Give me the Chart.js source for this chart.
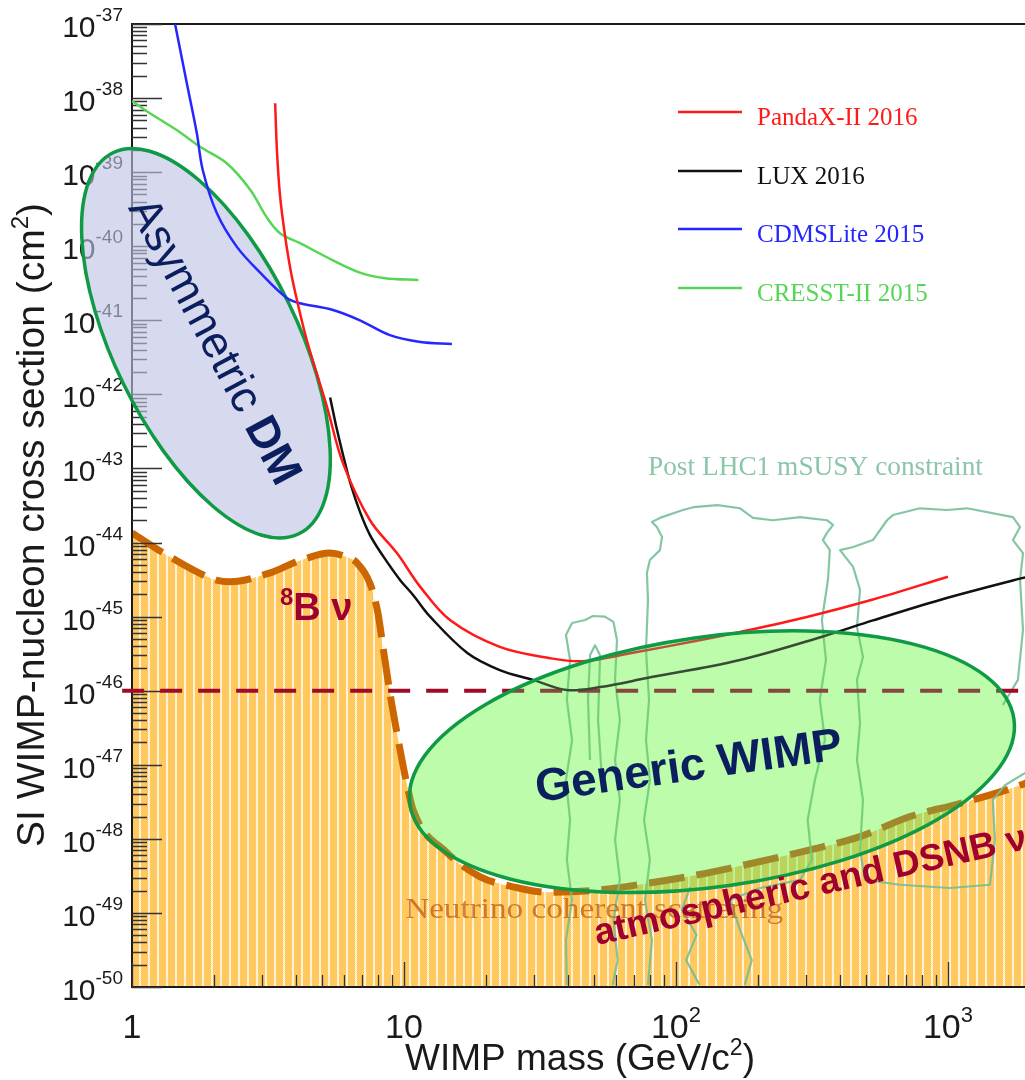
<!DOCTYPE html>
<html>
<head>
<meta charset="utf-8">
<script src="https://cdn.jsdelivr.net/npm/chart.js@4.4.1/dist/chart.umd.min.js"></script>
<style>
  html, body { margin: 0; padding: 0; background: #fff; }
  #wrap { width: 1025px; height: 1080px; position: relative; }
</style>
</head>
<body>
<div id="wrap"><canvas id="limits"></canvas></div>
<script>
// ---- data (WIMP mass in GeV/c^2, cross section in cm^2) ----
const yExps = [-37, -38, -39, -40, -41, -42, -43, -44, -45, -46, -47, -48, -49, -50];
const xTickValues = [1, 10, 100, 1000];
const xTickBases = ['1', '10', '10', '10'];
const xTickExps = ['', '', '2', '3'];

const pandaxMass  = [3.36, 3.41, 3.5, 3.65, 3.84, 4.08, 4.36, 4.71, 5.21, 5.97, 7.5, 9.42, 11.5, 14.8, 22.5, 34.4, 45.5, 69.5, 122, 172, 303, 530, 1000];
const pandaxSigma = [8.5e-39, 2.0e-39, 4.9e-40, 1.42e-40, 4.5e-41, 1.61e-41, 5.96e-42, 2.27e-42, 6.8e-43, 1.17e-43, 2.0e-44, 7.2e-45, 2.5e-45, 8.9e-46, 3.9e-46, 2.75e-46, 2.5e-46, 3.25e-46, 4.8e-46, 6.2e-46, 9.9e-46, 1.7e-45, 3.45e-45];

const luxMass  = [5.35, 5.62, 5.97, 6.38, 6.89, 7.5, 8.37, 9.67, 10.8, 12.5, 17.1, 22.5, 29.8, 39.7, 52.6, 78.2, 172, 347, 530, 935, 1888, 2000];
const luxSigma = [9.1e-43, 3.86e-43, 1.52e-43, 5.98e-44, 2.59e-44, 1.26e-44, 6.6e-45, 3.13e-45, 1.96e-45, 9.9e-46, 3.23e-46, 1.9e-46, 1.4e-46, 1.02e-46, 1.12e-46, 1.48e-46, 2.6e-46, 5.4e-46, 8.9e-46, 1.68e-45, 3.33e-45, 3.45e-45];

const cdmsMass  = [1.44, 1.59, 1.73, 1.82, 2.05, 2.43, 2.96, 3.71, 4.15, 5.48, 6.89, 8.88, 11.5, 15.0];
const cdmsSigma = [1e-37, 1.6e-38, 3.4e-39, 1.07e-39, 2.8e-40, 9.8e-41, 4.4e-41, 2.0e-41, 1.7e-41, 1.38e-41, 1.0e-41, 6.3e-42, 5.1e-42, 4.8e-42];

const cresstMass  = [1.0, 1.16, 1.46, 1.78, 2.23, 2.72, 3.13, 3.5, 4.15, 5.21, 6.89, 8.51, 11.3];
const cresstSigma = [9.1e-39, 6.3e-39, 3.7e-39, 2.2e-39, 1.32e-39, 5.8e-40, 2.45e-40, 1.5e-40, 1.1e-40, 7.1e-41, 4.4e-41, 3.7e-41, 3.5e-41];

// neutrino floor
const floorMass  = [1, 1.38, 2.05, 2.29, 3.22, 4.04, 5.35, 6.0, 6.72, 7.5, 8.02, 8.37, 8.88, 9.42, 10.3, 10.8, 14.4, 19.0, 25.2, 33.6, 52.6, 78, 119, 182, 311, 475, 725, 1107, 1919, 2000];
const floorSigma = [1.35e-44, 6.4e-45, 3.1e-45, 2.95e-45, 3.9e-45, 5.5e-45, 7.2e-45, 6.6e-45, 5.3e-45, 2.8e-45, 1.12e-45, 3.9e-46, 9.3e-47, 2.7e-47, 5.0e-48, 2.45e-48, 6.5e-49, 3.1e-49, 2.25e-49, 1.9e-49, 2.05e-49, 2.5e-49, 3.25e-49, 4.5e-49, 7.1e-49, 1.07e-48, 2.0e-48, 3.0e-48, 5.6e-48, 6.0e-48];

// 1e-46 reference line
const refMass = [0.92, 2000];
const refSigma = [1e-46, 1e-46];

// post LHC1 mSUSY contours [mass, sigma]
const susyA = [[39.7,1.07e-50],[39.4,4.3e-50],[41.5,1.5e-49],[39.7,5.2e-49],[40.8,1.8e-48],[39.4,6.2e-48],[41.5,2.16e-47],[39.7,7.5e-47],[40.8,2.6e-46],[39.4,5.65e-46],[41.5,8.2e-46],[46.3,9.0e-46],[49.5,1.02e-45],[54.8,1.0e-45],[58.9,8.5e-46],[60.7,4.8e-46],[59.7,1.4e-46],[62.2,4.0e-47],[59.7,1.16e-47],[62.2,3.35e-48],[59.7,9.7e-49],[62.2,2.8e-49],[58.9,8.0e-50],[61.0,2.3e-50],[58.6,1.07e-50]];
const susyAInner = [[48.3,1.16e-47],[47.5,7.5e-47],[48.3,3.0e-46],[50.4,4.1e-46],[52.6,3.0e-46],[51.7,4.0e-47],[53.5,6.2e-48]];
const susyB = [[78.9,1.07e-50],[81.6,4.3e-50],[76.9,1.5e-49],[80.2,5.2e-49],[76.3,1.8e-48],[80.2,6.2e-48],[77.6,2.16e-47],[79.6,7.5e-47],[77.6,3.55e-46],[78.9,1.68e-45],[78.2,3.9e-45],[80.2,5.8e-45],[87.3,7.9e-45],[88.9,1.19e-44],[85.1,1.62e-44],[81.6,1.9e-44],[87.3,2.15e-44],[106,2.75e-44],[116,3.0e-44],[142,3.2e-44],[172,2.9e-44],[192,2.15e-44],[227,2.0e-44],[286,2.2e-44],[359,2.0e-44],[378,1.73e-44],[359,1.35e-44],[347,1.08e-44],[368,7.9e-45],[362,3.1e-45],[344,9.0e-46],[356,2.6e-46],[338,7.5e-47],[353,2.16e-47],[324,6.2e-48],[305,1.8e-48],[316,5.2e-49],[286,2.8e-49],[204,2.17e-49],[158,1.5e-49],[172,5.9e-50],[190,2.3e-50],[179,1.07e-50]];
const susyC = [[2000,8.5e-48],[1620,5.3e-48],[1462,3.35e-48],[1489,9.7e-49],[1427,2.4e-49],[1017,2.17e-49],[666,2.4e-49],[495,2.8e-49],[475,7.1e-49],[487,3.35e-48],[463,1.16e-47],[475,3.66e-47],[463,1.4e-46],[487,2.85e-46],[463,7.2e-46],[475,2.3e-45],[448,4.7e-45],[401,7.9e-45],[448,8.7e-45],[530,1.08e-44],[597,2.0e-44],[628,2.35e-44],[789,2.9e-44],[991,2.75e-44],[1175,2.9e-44],[1734,2.2e-44],[1841,1.62e-44],[1734,1.08e-44],[1888,7.2e-45],[1841,3.1e-45],[1888,6.6e-46],[1808,1.4e-46],[1592,6.4e-47]];
const susyD = [[113,2.24e-49],[105,1.1e-49],[119,5.05e-50],[109,2.3e-50],[122,1.07e-50]];

const SANS = '"Liberation Sans", Arial, sans-serif';
const SERIF = '"Liberation Serif", "Times New Roman", serif';

function toXY(mass, sigma) {
  return mass.map((m, i) => ({ x: m, y: sigma[i] }));
}
function pairsXY(pairs) {
  return pairs.map(p => ({ x: p[0], y: p[1] }));
}

// orange fill with thin white wavy stripes
function stripePattern() {
  const p = document.createElement('canvas');
  p.width = 9; p.height = 4;
  const g = p.getContext('2d');
  g.fillStyle = '#FFC95F';
  g.fillRect(0, 0, 9, 4);
  for (let r = 0; r < 4; r++) {
    g.fillStyle = '#FFFFFF';
    g.fillRect(r % 2 ? 5 : 4, r, 1, 1);
    g.fillStyle = 'rgba(255,255,255,0.5)';
    g.fillRect(r % 2 ? 4 : 5, r, 1, 1);
  }
  return g.createPattern(p, 'repeat');
}

// text made of pieces (for superscripts)
function drawParts(ctx, parts, x, y, align, baseline) {
  ctx.textAlign = 'left';
  ctx.textBaseline = baseline || 'alphabetic';
  let w = 0;
  parts.forEach(p => { ctx.font = p.font; p.w = ctx.measureText(p.t).width; w += p.w; });
  let cx = align === 'right' ? x - w : align === 'center' ? x - w / 2 : x;
  parts.forEach(p => {
    ctx.font = p.font;
    ctx.fillText(p.t, cx, y + (p.dy || 0));
    cx += p.w;
  });
}

function drawFitted(ctx, text, x, y, width, font) {
  ctx.font = font;
  ctx.textAlign = 'left';
  ctx.textBaseline = 'alphabetic';
  const w = ctx.measureText(text).width;
  ctx.save();
  ctx.translate(x, y);
  ctx.scale(width / w, 1);
  ctx.fillText(text, 0, 0);
  ctx.restore();
}

function at(chart, mass, sigma) {
  return [chart.scales.x.getPixelForValue(mass), chart.scales.y.getPixelForValue(sigma)];
}

function drawAxes(chart) {
  const { ctx, chartArea: a, scales: { x, y } } = chart;
  ctx.save();
  // frame
  ctx.strokeStyle = '#1a1a1a';
  ctx.lineWidth = 2;
  ctx.beginPath();
  ctx.moveTo(a.right + 2, a.top);
  ctx.lineTo(a.left, a.top);
  ctx.lineTo(a.left, a.bottom);
  ctx.lineTo(a.right + 2, a.bottom);
  ctx.stroke();

  // y ticks
  ctx.strokeStyle = '#333';
  ctx.lineWidth = 1.3;
  ctx.beginPath();
  yExps.forEach(e => {
    const py = Math.round(y.getPixelForValue(Math.pow(10, e))) + 0.5;
    ctx.moveTo(a.left, py); ctx.lineTo(a.left + 30, py);
  });
  for (let e = -50; e < -37; e++) {
    for (let k = 2; k <= 9; k++) {
      const py = Math.round(y.getPixelForValue(k * Math.pow(10, e))) + 0.5;
      ctx.moveTo(a.left, py); ctx.lineTo(a.left + 15, py);
    }
  }
  // x ticks
  xTickValues.forEach(v => {
    const px = Math.round(x.getPixelForValue(v)) + 0.5;
    ctx.moveTo(px, a.bottom); ctx.lineTo(px, a.bottom - 25);
  });
  for (let d = 0; d <= 3; d++) {
    for (let k = 2; k <= 9; k++) {
      const v = k * Math.pow(10, d);
      if (v > x.max) continue;
      const px = Math.round(x.getPixelForValue(v)) + 0.5;
      ctx.moveTo(px, a.bottom); ctx.lineTo(px, a.bottom - 12);
    }
  }
  ctx.stroke();

  // tick labels
  ctx.fillStyle = '#1a1a1a';
  yExps.forEach(e => {
    const py = y.getPixelForValue(Math.pow(10, e));
    drawParts(ctx, [
      { t: '10', font: '30px ' + SANS },
      { t: String(e), font: '19px ' + SANS, dy: -16 }
    ], a.left - 9, py + 13, 'right');
  });
  xTickValues.forEach((v, i) => {
    const px = x.getPixelForValue(v);
    const parts = [{ t: xTickBases[i], font: '34px ' + SANS }];
    if (xTickExps[i]) parts.push({ t: xTickExps[i], font: '22px ' + SANS, dy: -16 });
    drawParts(ctx, parts, px, a.bottom + 51, 'center');
  });

  // axis titles
  drawParts(ctx, [
    { t: 'WIMP mass (GeV/c', font: '37px ' + SANS },
    { t: '2', font: '23px ' + SANS, dy: -15 },
    { t: ')', font: '37px ' + SANS }
  ], 580, a.bottom + 83, 'center');

  ctx.save();
  ctx.translate(44, 525);
  ctx.rotate(-Math.PI / 2);
  drawParts(ctx, [
    { t: 'SI WIMP-nucleon cross section (cm', font: '39px ' + SANS },
    { t: '2', font: '24px ' + SANS, dy: -16 },
    { t: ')', font: '39px ' + SANS }
  ], 0, 0, 'center');
  ctx.restore();
  ctx.restore();
}

// shaded model regions (centre in data units, radii in px)
const asymRegion = { mass: 1.87, sigma: 4.9e-42, rx: 212, ry: 92, rot: 64 };
const genericRegion = { mass: 135.6, sigma: 1.1e-47, rx: 305, ry: 125, rot: -8 };

function ellipsePath(chart, r) {
  const [px, py] = at(chart, r.mass, r.sigma);
  chart.ctx.beginPath();
  chart.ctx.ellipse(px, py, r.rx, r.ry, r.rot * Math.PI / 180, 0, 2 * Math.PI);
}

function drawAsym(chart) {
  const ctx = chart.ctx;
  ctx.save();
  ellipsePath(chart, asymRegion);
  ctx.fillStyle = 'rgba(190,193,227,0.62)';
  ctx.fill();
  ctx.lineWidth = 3.5;
  ctx.strokeStyle = '#0F9A45';
  ctx.stroke();
  ctx.restore();
}

function drawOverlay(chart) {
  const ctx = chart.ctx;
  ctx.save();

  // neutrino floor label
  let p = at(chart, 10.1, 8.55e-50);
  ctx.fillStyle = 'rgba(195,100,25,0.8)';
  drawFitted(ctx, 'Neutrino coherent scattering', p[0], p[1], 378, '30px ' + SERIF);

  // mSUSY label
  p = at(chart, 78.9, 8.2e-44);
  ctx.fillStyle = '#8CC6A8';
  drawFitted(ctx, 'Post LHC1 mSUSY constraint', p[0], p[1], 335, '27px ' + SERIF);

  // generic WIMP region
  ellipsePath(chart, genericRegion);
  ctx.globalCompositeOperation = 'multiply';
  ctx.fillStyle = 'rgb(188,252,170)';
  ctx.fill();
  ctx.globalCompositeOperation = 'source-over';
  ctx.fillStyle = 'rgba(188,252,170,0.25)';
  ctx.fill();
  ctx.lineWidth = 3.5;
  ctx.strokeStyle = '#0F9A45';
  ctx.stroke();

  // annotations
  ctx.fillStyle = '#0B1F5E';
  p = at(chart, 111.6, 9.1e-48);
  ctx.save();
  ctx.translate(p[0], p[1]);
  ctx.rotate(-8 * Math.PI / 180);
  drawParts(ctx, [{ t: 'Generic WIMP', font: 'bold 46px ' + SANS }], 0, 0, 'center', 'middle');
  ctx.restore();

  p = at(chart, 1.99, 5.1e-42);
  ctx.save();
  ctx.translate(p[0], p[1]);
  ctx.rotate(62 * Math.PI / 180);
  drawParts(ctx, [
    { t: 'Asymmetric ', font: '45px ' + SANS },
    { t: 'DM', font: 'bold 45px ' + SANS }
  ], 0, 0, 'center', 'middle');
  ctx.restore();

  ctx.fillStyle = '#A0002E';
  p = at(chart, 3.5, 9.0e-46);
  drawParts(ctx, [
    { t: '8', font: 'bold 24px ' + SANS, dy: -15 },
    { t: 'B \u03BD', font: 'bold 38px ' + SANS }
  ], p[0], p[1], 'left');

  p = at(chart, 51.3, 3.7e-50);
  ctx.save();
  ctx.translate(p[0], p[1]);
  ctx.rotate(-12.6 * Math.PI / 180);
  drawParts(ctx, [{ t: 'atmospheric and DSNB \u03BD', font: 'bold 37px ' + SANS }], 0, 0, 'left');
  ctx.restore();

  // legend
  const rows = [112, 171, 229, 288];
  chart.data.datasets.filter(d => d.inLegend).forEach((d, i) => {
    ctx.strokeStyle = d.borderColor;
    ctx.lineWidth = 2.5;
    ctx.beginPath();
    ctx.moveTo(678, rows[i]);
    ctx.lineTo(742, rows[i]);
    ctx.stroke();
    ctx.fillStyle = d.borderColor;
    ctx.font = '25px ' + SERIF;
    ctx.textAlign = 'left';
    ctx.textBaseline = 'alphabetic';
    ctx.fillText(d.label, 757, rows[i] + 13);
  });
  ctx.restore();
}

const decor = {
  id: 'decor',
  afterDatasetDraw(chart, args) {
    if (args.index !== 0) return;
    drawAxes(chart);
    drawAsym(chart);
  },
  afterDatasetsDraw(chart) {
    drawOverlay(chart);
  }
};

const contourStyle = {
  borderColor: 'rgba(110,188,148,0.85)',
  borderWidth: 2.2,
  pointRadius: 0,
  tension: 0,
  fill: false,
  borderJoinStyle: 'round',
  order: 8
};

const limitStyle = { borderWidth: 2.5, pointRadius: 0, tension: 0.35, order: 1 };

const ctx = document.getElementById('limits').getContext('2d');
new Chart(ctx, {
  type: 'line',
  data: {
    datasets: [
      {
        label: 'Neutrino floor',
        data: toXY(floorMass, floorSigma),
        borderColor: '#CC6600',
        borderWidth: 7,
        borderDash: [36, 12],
        backgroundColor: stripePattern(),
        fill: 'start',
        pointRadius: 0,
        cubicInterpolationMode: 'monotone',
        order: 10
      },
      Object.assign({ label: 'mSUSY A', data: pairsXY(susyA) }, contourStyle),
      Object.assign({ label: 'mSUSY A inner', data: pairsXY(susyAInner) }, contourStyle),
      Object.assign({ label: 'mSUSY B', data: pairsXY(susyB) }, contourStyle),
      Object.assign({ label: 'mSUSY C', data: pairsXY(susyC) }, contourStyle),
      Object.assign({ label: 'mSUSY D', data: pairsXY(susyD) }, contourStyle),
      {
        label: '1e-46',
        data: toXY(refMass, refSigma),
        borderColor: '#A00A28',
        borderWidth: 4,
        borderDash: [22, 16],
        pointRadius: 0,
        clip: false,
        order: 6
      },
      Object.assign({
        label: 'PandaX-II 2016', inLegend: true,
        data: toXY(pandaxMass, pandaxSigma), borderColor: '#FF1A1A'
      }, limitStyle),
      Object.assign({
        label: 'LUX 2016', inLegend: true,
        data: toXY(luxMass, luxSigma), borderColor: '#111111'
      }, limitStyle),
      Object.assign({
        label: 'CDMSLite 2015', inLegend: true,
        data: toXY(cdmsMass, cdmsSigma), borderColor: '#2626FF'
      }, limitStyle),
      Object.assign({
        label: 'CRESST-II 2015', inLegend: true,
        data: toXY(cresstMass, cresstSigma), borderColor: '#55D655'
      }, limitStyle)
    ]
  },
  options: {
    responsive: true,
    maintainAspectRatio: false,
    animation: false,
    events: [],
    layout: { padding: { left: 132, top: 24, right: 0, bottom: 93 } },
    scales: {
      x: { type: 'logarithmic', min: 1, max: 1920, display: false },
      y: { type: 'logarithmic', min: 1e-50, max: 1e-37, display: false }
    },
    plugins: {
      legend: { display: false },
      tooltip: { enabled: false }
    }
  },
  plugins: [decor]
});
</script>
</body>
</html>
